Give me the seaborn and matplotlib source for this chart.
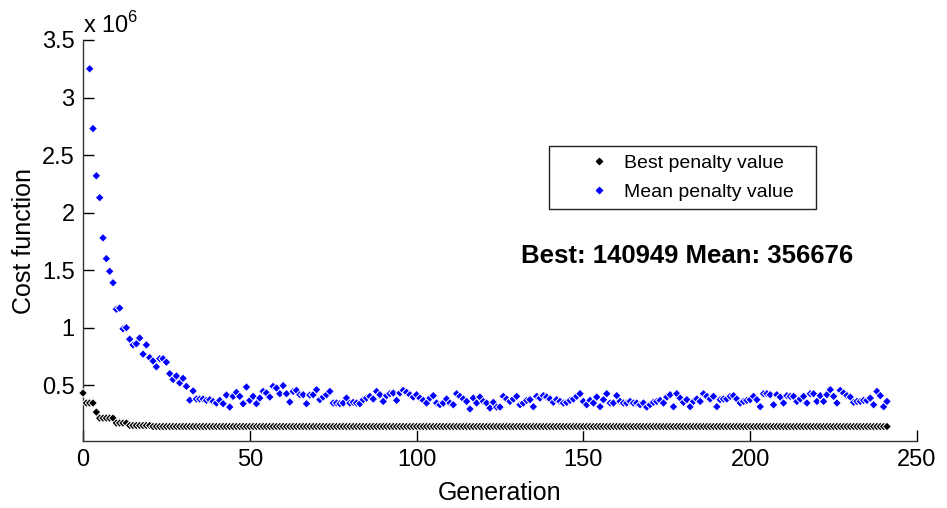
import numpy as np
import pandas as pd
import matplotlib
matplotlib.use("Agg")
import matplotlib.pyplot as plt
import seaborn as sns
from matplotlib.ticker import FuncFormatter

# ---------------- data ----------------
best_levels = [432000] + [345000] * 3 + [266000] + [214000] * 5 + [171000] * 4 + [150000] * 7
best_final = 140949
n_gen = 242
generations = list(range(n_gen))
best_values = best_levels + [best_final] * (n_gen - len(best_levels))

mean_gens = list(range(2, n_gen))
mean_values_m = [
    3.25, 2.73, 2.32, 2.13, 1.78, 1.60, 1.49, 1.39, 1.16, 1.17,
    0.99, 1.00, 0.90, 0.85, 0.86, 0.91, 0.77, 0.85, 0.74, 0.71,
    0.66, 0.73, 0.73, 0.70, 0.60, 0.55, 0.58, 0.52, 0.56, 0.49,
    0.37, 0.45,
    0.380, 0.380, 0.380, 0.368, 0.374, 0.359, 0.345, 0.368, 0.339, 0.414,
    0.310, 0.403, 0.438, 0.403, 0.339, 0.484, 0.368, 0.403, 0.339, 0.388,
    0.446, 0.432, 0.397, 0.490, 0.475, 0.426, 0.496, 0.426, 0.354, 0.446,
    0.455, 0.417, 0.417, 0.339, 0.414, 0.417, 0.461, 0.374, 0.397, 0.417,
    0.446, 0.345, 0.345, 0.339, 0.345, 0.388, 0.345, 0.351, 0.345,
    0.339, 0.374, 0.388, 0.403, 0.380, 0.446, 0.417, 0.359, 0.409, 0.426,
    0.432, 0.368, 0.432, 0.455, 0.438, 0.417, 0.397, 0.417, 0.388, 0.368,
    0.345, 0.388, 0.409, 0.345, 0.330, 0.345, 0.380, 0.345, 0.330, 0.426,
    0.403, 0.380, 0.359, 0.293, 0.388, 0.345, 0.397, 0.359, 0.345, 0.301,
    0.351, 0.310, 0.310, 0.403, 0.380, 0.359, 0.380, 0.403, 0.330, 0.345,
    0.368, 0.374,
    0.313, 0.403, 0.388, 0.409, 0.397, 0.380, 0.351, 0.374, 0.359, 0.345,
    0.351, 0.368, 0.380, 0.403, 0.426, 0.359, 0.330, 0.368, 0.345, 0.397,
    0.313, 0.374, 0.426, 0.345, 0.345, 0.409, 0.359, 0.345, 0.345, 0.359,
    0.345, 0.345, 0.330, 0.345, 0.310, 0.330, 0.351, 0.359, 0.368, 0.345,
    0.397, 0.417, 0.313, 0.426, 0.388, 0.351, 0.374, 0.313, 0.359, 0.380,
    0.359, 0.426, 0.403,
    0.380, 0.403, 0.313, 0.374, 0.380, 0.380, 0.403, 0.409, 0.380, 0.345,
    0.359, 0.368, 0.374, 0.403, 0.374, 0.313, 0.426, 0.426, 0.417, 0.330,
    0.417, 0.397, 0.345, 0.409, 0.403, 0.403, 0.359, 0.380, 0.403, 0.345,
    0.426, 0.426, 0.359, 0.409, 0.359, 0.417, 0.461, 0.403, 0.345, 0.455,
    0.432, 0.409, 0.397, 0.351, 0.359, 0.359, 0.368, 0.368, 0.388, 0.330,
    0.446, 0.409, 0.313, 0.359,
]
mean_values = [v * 1e6 for v in mean_values_m]

series_names = ["Best penalty value", "Mean penalty value"]
series_colors = ["black", "blue"]
x_ticks = [0, 50, 100, 150, 200, 250]
y_ticks = [0.5e6, 1.0e6, 1.5e6, 2.0e6, 2.5e6, 3.0e6, 3.5e6]
annotation = "Best: 140949 Mean: 356676"

# ---------------- table ----------------
df = pd.concat([
    pd.DataFrame({"Generation": generations, "value": best_values, "series": series_names[0]}),
    pd.DataFrame({"Generation": mean_gens[:len(mean_values)], "value": mean_values, "series": series_names[1]}),
], ignore_index=True)

# ---------------- style ----------------
sns.set_style("white")
plt.rcParams["font.family"] = ["Liberation Sans", "DejaVu Sans"]
plt.rcParams["mathtext.fontset"] = "custom"
plt.rcParams["mathtext.rm"] = "Liberation Sans"
plt.rcParams["text.color"] = "black"
plt.rcParams["axes.labelcolor"] = "black"
plt.rcParams["xtick.color"] = "black"
plt.rcParams["ytick.color"] = "black"

fig = plt.figure(figsize=(9.47, 5.08), dpi=100)
ax = fig.add_axes([83 / 947, 1 - 441 / 508, 834 / 947, 401 / 508])

sns.scatterplot(data=df, x="Generation", y="value", hue="series",
                palette=dict(zip(series_names, series_colors)),
                marker="D", s=20, linewidth=0.7, ax=ax, legend=False)
for coll in ax.collections:
    coll.set_clip_on(False)
    coll.set_zorder(3)

ax.set_xlim(0, 250)
ax.set_ylim(0.015e6, 3.5e6)
ax.set_xticks(x_ticks)
ax.set_yticks(y_ticks)
ax.yaxis.set_major_formatter(FuncFormatter(lambda v, p: f"{v / 1e6:g}"))
ax.tick_params(direction="in", length=8, width=1, labelsize=17,
               bottom=True, left=True, top=False, right=False, pad=6)
for side in ["top", "right"]:
    ax.spines[side].set_visible(False)
for side in ["left", "bottom"]:
    ax.spines[side].set_color("#333333")
    ax.spines[side].set_linewidth(1)

ax.set_xlabel("Generation", fontsize=18, labelpad=7)
ax.set_ylabel("Cost function", fontsize=18, labelpad=4)

ax.text(0.0, 1.005, r"x 10$^{6}$", transform=ax.transAxes, fontsize=17,
        ha="left", va="bottom")

ax.text(181, 1.62e6, annotation, fontsize=18.5, fontweight="bold",
        ha="center", va="center")

handles = [plt.Line2D([], [], linestyle="none", marker="D", markersize=3.5,
                      color=c, markeredgewidth=0.6) for c in series_colors]
leg = ax.legend(handles, series_names, loc="upper left",
                bbox_to_anchor=(0.559, 0.579, 0.32, 0.157), mode="expand",
                fontsize=14, frameon=True,
                fancybox=False, edgecolor="#222222", handlelength=4.25,
                handletextpad=-0.84, borderpad=0.42, labelspacing=0.6,
                borderaxespad=0, framealpha=1)
leg.get_frame().set_linewidth(1)

fig.savefig("out.png", dpi=100)
